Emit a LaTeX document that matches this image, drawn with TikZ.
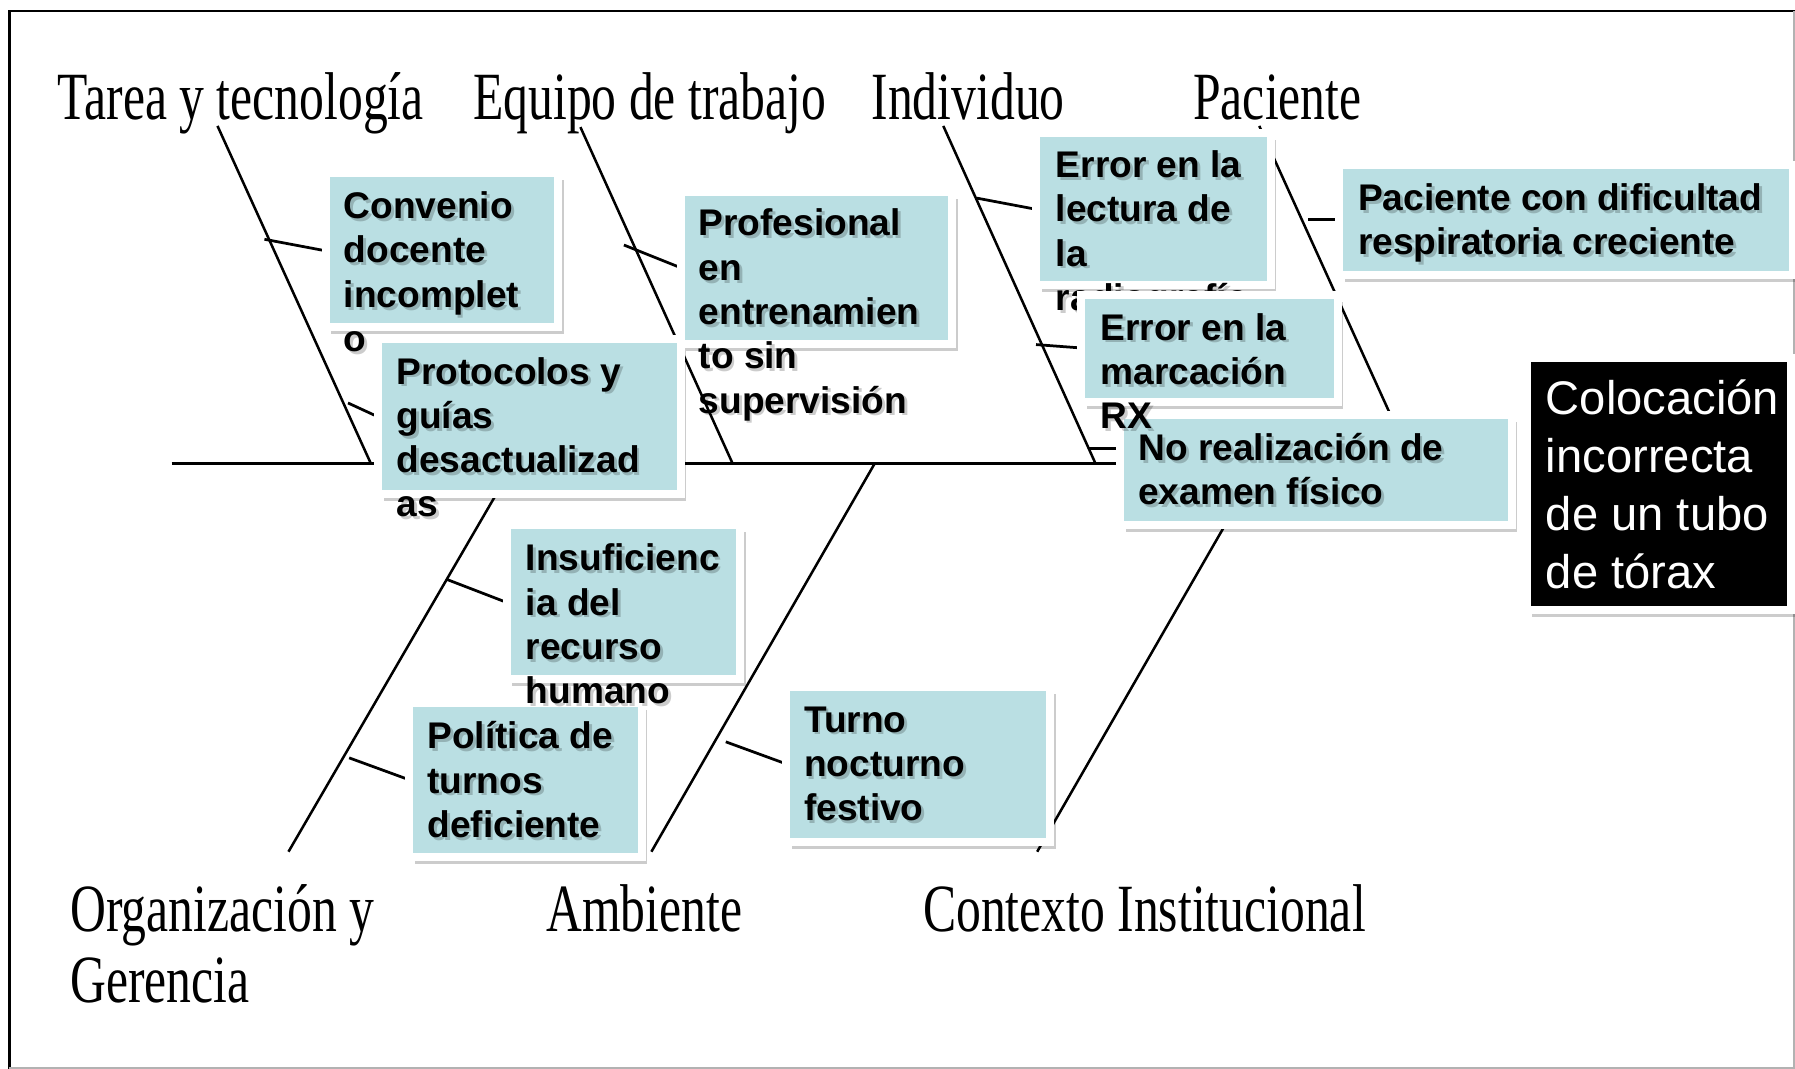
\documentclass[tikz,border=0pt]{standalone}
\usepackage{fontspec}
\newfontfamily\arialf{Liberation Sans}
\newfontfamily\tnrf[FakeStretch=0.735]{Liberation Serif}
\usetikzlibrary{shadows,calc}
\definecolor{boxteal}{RGB}{186,223,227}
\tikzset{
  bone/.style={line width=1.1pt, black},
  spineline/.style={line width=1.6pt, black},
  subbone/.style={line width=1.2pt, black},
  cbox/.style={fill=boxteal, draw=white, line width=3.5pt, inner sep=0pt,
    drop shadow={shadow xshift=2.5pt, shadow yshift=-3pt, opacity=0.2, fill=black}},
  hbox/.style={fill=black, draw=white, line width=3.5pt, inner sep=0pt,
    drop shadow={shadow xshift=2.5pt, shadow yshift=-3pt, opacity=0.2, fill=black}},
  btxt/.style={anchor=base west, inner sep=0pt, text=black,
    font=\arialf\bfseries\fontsize{16.2pt}{19.35pt}\selectfont},
  htxt/.style={anchor=base west, inner sep=0pt, text=white,
    font=\arialf\fontsize{20.6pt}{25.25pt}\selectfont},
  lbl/.style={anchor=base west, inner sep=0pt, text=black,
    font=\tnrf\fontsize{29.5pt}{31pt}\selectfont},
}
\newcommand\btext[4]{%
  \node[btxt, text opacity=0.2] at ($(#2,#3)+(2.5,2.5)$) {\parbox[t]{500pt}{#4}};
  \node[btxt] (#1) at (#2,#3) {\parbox[t]{500pt}{#4}};
}
\begin{document}
\begin{tikzpicture}[x=0.5pt,y=-0.5pt]
\useasboundingbox (0,0) rectangle (1568,933.8);
\fill[white] (0,0) rectangle (1568,933.8);
% frame
\draw[line width=1.3pt] (8,933.8) -- (8,9.6) -- (1568,9.6);
\draw[black!30, line width=0.6pt] (1567,9.6) -- (1567,933) -- (8,933);

% category labels
\node[lbl] (Ltarea) at (50,104) {Tarea y tecnología};
\node[lbl] (Lequipo) at (413,104) {Equipo de trabajo};
\node[lbl] (Lindiv) at (761,104) {Individuo};
\node[lbl] (Lpac) at (1042,104) {Paciente};
\node[lbl] (Lorg) at (61,814) {\parbox[t]{300pt}{Organización y\\Gerencia}};
\node[lbl] (Lamb) at (477,814) {Ambiente};
\node[lbl] (Lctx) at (806,814) {Contexto Institucional};

% bones
\coordinate (b1t) at (190,110);  \coordinate (b1s) at (324,405);
\coordinate (b2t) at (507,111);  \coordinate (b2s) at (640,405);
\coordinate (b3t) at (824,110);  \coordinate (b3s) at (957,405);
\coordinate (b4t) at (1100,110); \coordinate (b4s) at (1234,405);
\coordinate (b5t) at (252,744);  \coordinate (b5s) at (449,405);
\coordinate (b6t) at (569,744);  \coordinate (b6s) at (764,405);
\coordinate (b7t) at (906,744);  \coordinate (b7s) at (1101,405);
\foreach \i in {1,...,7} {\draw[bone] (b\i t) -- (b\i s);}

% spine
\coordinate (tail) at (150,405);
\coordinate (spineend) at (980,405);
\draw[spineline] (tail) -- (spineend);

% sub-bones
\coordinate (s1a) at (231,209);  \coordinate (s1b) at (284,219);
\coordinate (s2a) at (304,352);  \coordinate (s2b) at (330,364);
\coordinate (s3a) at (545,214);  \coordinate (s3b) at (595,234);
\coordinate (s4a) at (853,173);  \coordinate (s4b) at (906,183);
\coordinate (s5a) at (905,301);  \coordinate (s5b) at (945,304);
\coordinate (s6a) at (951,392);  \coordinate (s6b) at (978,392);
\coordinate (s7a) at (1143,192); \coordinate (s7b) at (1169,192);
\coordinate (s8a) at (390,506);  \coordinate (s8b) at (442,526);
\coordinate (s9a) at (305,662);  \coordinate (s9b) at (357,681);
\coordinate (s10a) at (634,648); \coordinate (s10b) at (686,667);
\foreach \i in {1,...,10} {\draw[subbone] (s\i a) -- (s\i b);}

% boxes and texts
\node[cbox, minimum width=101.5pt, minimum height=67pt] (conv) at (386,218.5) {};
\btext{tconv}{300}{191}{Convenio\\docente\\incomplet\\o}

\node[cbox, minimum width=132pt, minimum height=67.5pt] (prot) at (462.5,364) {};
\btext{tprot}{346}{335.5}{Protocolos y\\guías\\desactualizad\\as}

\node[cbox, minimum width=118.5pt, minimum height=66.5pt] (prof) at (713,234) {};
\btext{tprof}{610}{206}{Profesional\\en\\entrenamien\\to sin\\supervisión}

\node[cbox, minimum width=198.5pt, minimum height=48pt] (pac) at (1368,192.5) {};
\btext{tpac}{1186}{184}{Paciente con dificultad\\respiratoria creciente}

\node[cbox, minimum width=102.5pt, minimum height=66.5pt] (lect) at (1007.5,182.5) {};
\btext{tlect}{922}{155}{Error en la\\lectura de\\la\\radiografía}

\node[cbox, minimum width=171pt, minimum height=48pt] (norl) at (1149.5,410.5) {};
\btext{tnorl}{994}{402}{No realización de\\examen físico}

\node[cbox, minimum width=112pt, minimum height=47pt] (marc) at (1056.5,304.5) {};
\btext{tmarc}{961}{297}{Error en la\\marcación\\RX}

\node[cbox, minimum width=101.5pt, minimum height=67pt] (poli) at (459,681.5) {};
\btext{tpoli}{373}{654}{Política de\\turnos\\deficiente}

\node[cbox, minimum width=102pt, minimum height=67.5pt] (insu) at (544.5,526) {};
\btext{tinsu}{459}{498.6}{Insuficienc\\ia del\\recurso\\humano}

\node[cbox, minimum width=115.5pt, minimum height=67.5pt] (turn) at (802,668) {};
\btext{tturn}{702}{639.5}{Turno\\nocturno\\festivo}

% head
\node[hbox, minimum width=115.5pt, minimum height=110.25pt] (head) at (1449,422.75) {};
\node[htxt] (thead) at (1350,362.5) {\parbox[t]{300pt}{Colocación\\incorrecta\\de un tubo\\de tórax}};
\end{tikzpicture}
\end{document}
